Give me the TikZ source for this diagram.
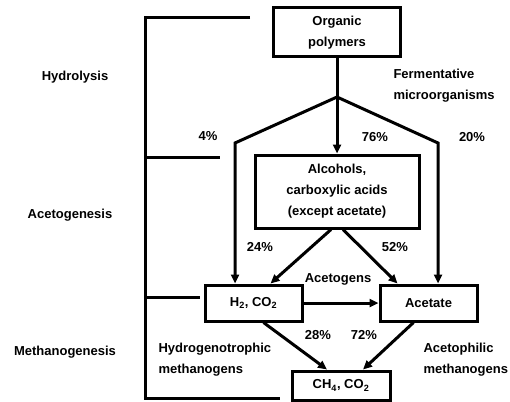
\documentclass[tikz,border=0pt]{standalone}
\usepackage{fontspec}
\setmainfont{Liberation Sans}
\usetikzlibrary{arrows.meta}
\begin{document}
\begin{tikzpicture}[x=1pt,y=-1pt,line width=3pt,
  font=\bfseries\fontsize{13}{21}\selectfont,
  box/.style={draw,rectangle,inner sep=0pt,align=center},
  arr/.style={-{Triangle[length=9pt,width=8pt]}},
  lbl/.style={align=left,inner sep=0pt},
  pct/.style={inner sep=0pt}]
\useasboundingbox (0,0) rectangle (510,401);
% boxes
\node[box,minimum width=127pt,minimum height=49pt] (org) at (337,32.5) {Organic\\polymers};
\node[box,minimum width=164pt,minimum height=73pt] (alc) at (337,191.5) {Alcohols,\\carboxylic acids\\(except acetate)};
\node[box,minimum width=97pt,minimum height=36pt] (h2) at (253.5,303) {H\textsubscript{2}, CO\textsubscript{2}};
\node[box,minimum width=97pt,minimum height=36pt] (ace) at (428.5,303) {Acetate};
\node[box,minimum width=98pt,minimum height=29pt] (ch4) at (341,385.5) {CH\textsubscript{4}, CO\textsubscript{2}};
% fork
\coordinate (fork) at (337,97);
\coordinate (lb) at (235,143);
\coordinate (rb) at (438,143);
\draw (org.south) -- (fork);
\draw[arr] (fork) -- (alc.north);
\draw[arr] (fork) -- (lb) -- (lb |- h2.north);
\draw[arr] (fork) -- (rb) -- (rb |- ace.north);
\draw[arr] ([xshift=-6pt]alc.south) -- ([xshift=17pt]h2.north);
\draw[arr] ([xshift=6pt]alc.south) -- ([xshift=-31pt]ace.north);
\draw[arr] (h2.east) -- (ace.west);
\draw[arr] ([xshift=10pt]h2.south) -- ([xshift=-14pt]ch4.north);
\draw[arr] ([xshift=-15pt]ace.south) -- ([xshift=22pt]ch4.north);
% bracket
\coordinate (b1) at (250,18);
\coordinate (b2) at (145,18);
\coordinate (b3) at (145,398);
\coordinate (b4) at (280,398);
\coordinate (c1) at (145,157);
\coordinate (c2) at (220,157);
\coordinate (d1) at (145,297);
\coordinate (d2) at (200,297);
\draw (b1) -- (b2) -- (b3) -- (b4);
\draw (c1) -- (c2);
\draw (d1) -- (d2);
% stage labels
\node[pct] (hyd) at (75,77) {Hydrolysis};
\node[pct] (acg) at (70,215) {Acetogenesis};
\node[pct] (met) at (65,352) {Methanogenesis};
\node[lbl,anchor=west] (fer) at (392,86) {Fermentative\\microorganisms};
\node[lbl,anchor=west] (hym) at (157,360) {Hydrogenotrophic\\methanogens};
\node[lbl,anchor=west] (acm) at (422,360) {Acetophilic\\methanogens};
\node[pct] (acgs) at (338,279) {Acetogens};
% percentages
\node[pct] (p4) at (208,136) {4\%};
\node[pct] (p76) at (375,137) {76\%};
\node[pct] (p20) at (472,137) {20\%};
\node[pct] (p24) at (260,247) {24\%};
\node[pct] (p52) at (395,247) {52\%};
\node[pct] (p28) at (318,335) {28\%};
\node[pct] (p72) at (364,335) {72\%};
\end{tikzpicture}
\end{document}
